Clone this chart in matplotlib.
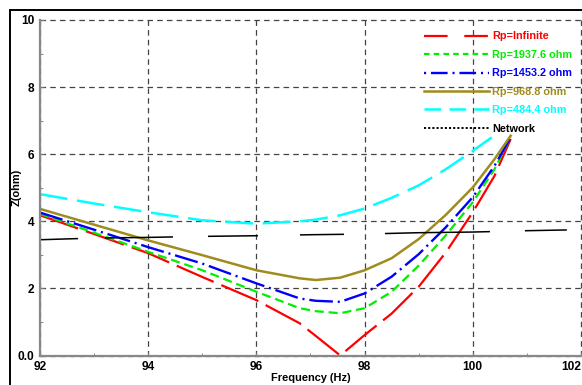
import numpy as np
import matplotlib
matplotlib.use("Agg")
import matplotlib.pyplot as plt
from matplotlib.ticker import MultipleLocator, FixedLocator, FixedFormatter
from matplotlib.lines import Line2D
from matplotlib.patches import Rectangle

plt.rcParams['lines.scale_dashes'] = False
plt.rcParams['font.family'] = ['Liberation Sans', 'DejaVu Sans']

# impedance curves
freq = [92, 93, 94, 95, 96, 96.8, 97.1, 97.55, 98, 98.5, 99, 99.5, 100, 100.4, 100.7]
z_inf = [4.18, 3.62, 3.05, 2.34, 1.65, 0.96, 0.58, 0.0, 0.61, 1.25, 2.05, 3.07, 4.27, 5.35, 6.45]
z_1937 = [4.22, 3.66, 3.09, 2.54, 1.90, 1.41, 1.32, 1.26, 1.41, 1.90, 2.68, 3.58, 4.57, 5.55, 6.50]
z_1453 = [4.26, 3.75, 3.23, 2.74, 2.15, 1.70, 1.63, 1.60, 1.85, 2.35, 3.02, 3.82, 4.72, 5.65, 6.50]
z_968 = [4.37, 3.90, 3.43, 2.99, 2.54, 2.30, 2.25, 2.32, 2.54, 2.90, 3.47, 4.19, 5.01, 5.85, 6.55]
freq_484 = [92, 93, 94, 95, 96, 96.8, 97.1, 97.55, 98, 98.5, 99, 99.5, 100, 100.35]
z_484 = [4.81, 4.53, 4.27, 4.03, 3.93, 4.00, 4.05, 4.18, 4.38, 4.70, 5.07, 5.55, 6.10, 6.50]

net_freq = [92, 93, 94, 95, 96, 97, 98, 99, 100, 101, 102]
net_z = [3.45, 3.50, 3.52, 3.55, 3.57, 3.60, 3.62, 3.66, 3.68, 3.72, 3.75]

labels = ['Rp=Infinite', 'Rp=1937.6 ohm', 'Rp=1453.2 ohm', 'Rp=968.8 ohm', 'Rp=484.4 ohm', 'Network']
x_ticks = [92, 94, 96, 98, 100, 102]
y_ticks = [0, 2, 4, 6, 8, 10]
y_ticklabels = ['0.0', '2', '4', '6', '8', '10']

fig = plt.figure(figsize=(5.82, 3.85), dpi=100)
ax = fig.add_axes([40 / 582, 1 - 355.5 / 385, 541 / 582, 335.5 / 385])

olive = '#a08c1e'
ax.plot(freq, z_inf, color='#ff0000', lw=1.6, dashes=(29, 6))
ax.plot(freq, z_1937, color='#00ee00', lw=1.6, dashes=(6.5, 3.5))
ax.plot(freq, z_1453, color='#0000ff', lw=1.7, dashes=(17, 3.5, 1.5, 3.5))
ax.plot(freq, z_968, color=olive, lw=1.8)
ax.plot(freq_484, z_484, color='#00ffff', lw=1.8, dashes=(20, 7))
ax.plot(net_freq, net_z, color='black', lw=1.1,
        dashes=(27.4, 19.4, 49, 25.2, 36, 30.2, 31.7, 29.5, 75.6, 25.2, 30.2, 72))

ax.set_xlim(92, 102)
ax.set_ylim(0, 10)
ax.xaxis.set_major_locator(FixedLocator(x_ticks))
ax.yaxis.set_major_locator(FixedLocator(y_ticks))
ax.yaxis.set_major_formatter(FixedFormatter(y_ticklabels))
ax.xaxis.set_minor_locator(MultipleLocator(1))
ax.yaxis.set_minor_locator(MultipleLocator(1))
ax.tick_params(which='both', direction='in', color='#777777', labelsize=8.6, pad=4)
ax.tick_params(which='major', length=3)
ax.tick_params(which='minor', length=2)
for t in ax.get_xticklabels() + ax.get_yticklabels():
    t.set_fontweight('bold')
ax.get_xticklabels()[-1].set_ha('right')

ax.grid(True, linestyle=(0, (4, 3)), color='#444444', linewidth=0.9)
for gl in ax.get_xgridlines() + ax.get_ygridlines():
    gl.set_clip_on(False)

for side in ['top', 'right']:
    ax.spines[side].set_visible(False)
for side in ['left', 'bottom']:
    ax.spines[side].set_color('#888888')
    ax.spines[side].set_linewidth(1.6)

ax.set_xlabel('Frequency (Hz)', fontsize=7.9, fontweight='bold')
ax.xaxis.set_label_coords(0.5, -0.052)
fig.text(17 / 582, 1 - 187 / 385, 'Z(ohm)', rotation=90, ha='center', va='center',
         fontsize=7.9, fontweight='bold')

handles = [
    Line2D([], [], color='#ff0000', lw=1.6, dashes=(17, 12)),
    Line2D([], [], color='#00ee00', lw=1.6, dashes=(4, 3)),
    Line2D([], [], color='#0000ff', lw=1.7, dashes=(1.5, 3.5, 12, 3.5)),
    Line2D([], [], color=olive, lw=1.8),
    Line2D([], [], color='#00ffff', lw=1.8, dashes=(12, 6)),
    Line2D([], [], color='black', lw=1.4, dashes=(1.5, 1.5)),
]
leg = ax.legend(handles, labels, loc='upper left', bbox_to_anchor=(419 / 582, 1 - 26 / 385),
                bbox_transform=fig.transFigure, frameon=False, borderpad=0,
                handlelength=6.0, handletextpad=0.25, labelspacing=0.78,
                labelcolor='linecolor', prop={'weight': 'bold', 'size': 7.8})

fig.patches.append(Rectangle((10 / 582, -0.2), 2, 1 - 10 / 385 + 0.2, transform=fig.transFigure,
                             fill=False, edgecolor='black', lw=1.4))

fig.savefig('out.png', dpi=100)
